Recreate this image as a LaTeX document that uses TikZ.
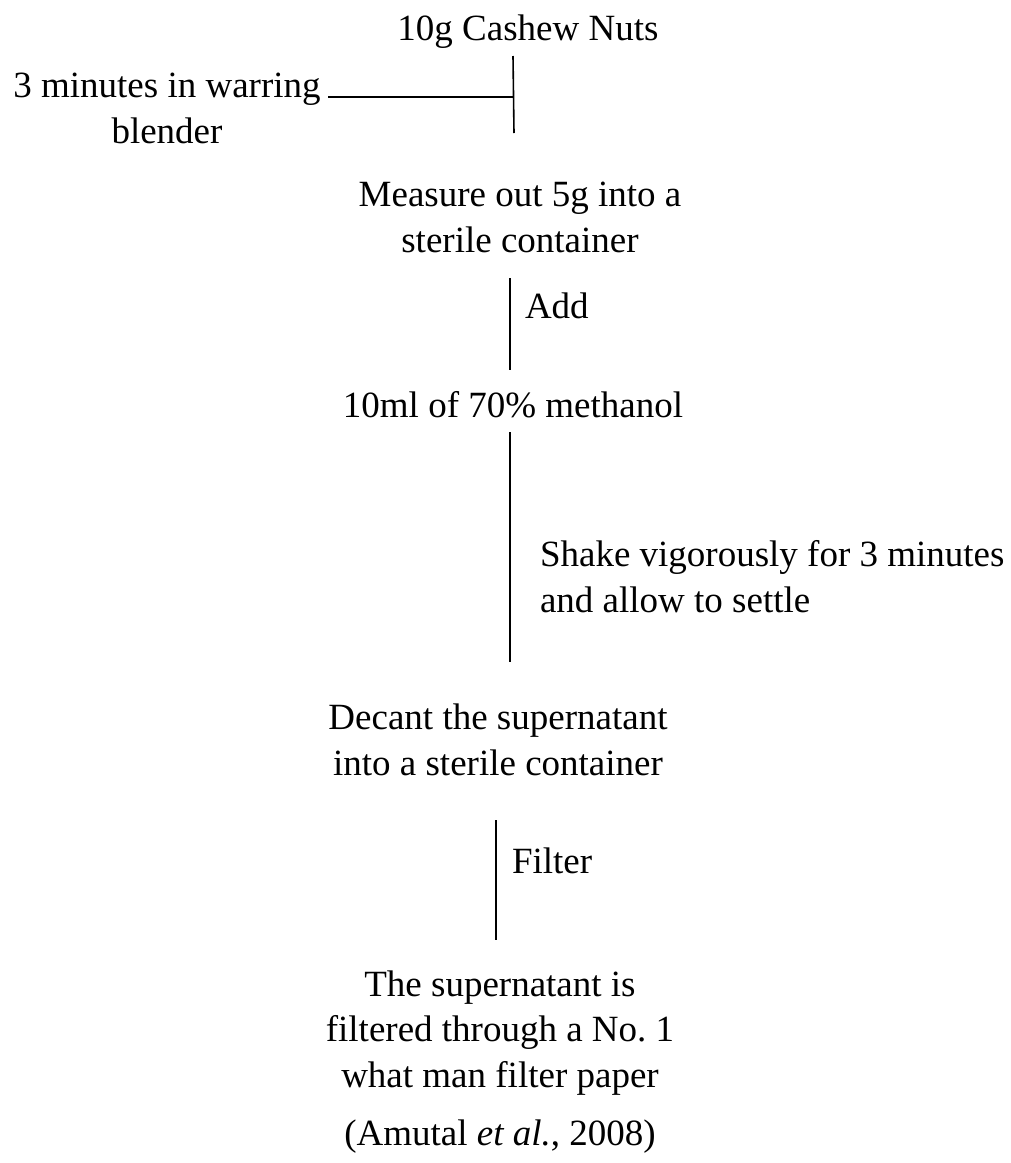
\documentclass[tikz,border=0pt]{standalone}
\usepackage{fontspec}
\setmainfont{Liberation Serif}
\begin{document}
\begin{tikzpicture}[x=1pt,y=-1pt,
  txt/.style={inner sep=0pt,outer sep=0pt,align=center,font=\fontsize{37}{45.5}\selectfont,anchor=base},
  ltxt/.style={txt,align=left,anchor=base west},
  ln/.style={line width=1.6pt,black}]
\useasboundingbox (0,0) rectangle (1011,1163);
\node[txt] (nuts) at (528,40) {10g Cashew Nuts};
\node[txt] (blend) at (167,143) {3 minutes in warring\\blender};
\node[txt] (measure) at (520,252) {Measure out 5g into a\\sterile container};
\node[ltxt] (add) at (525,318) {Add};
\node[txt] (meth) at (513,417) {10ml of 70\% methanol};
\node[ltxt] (shake) at (540,612) {Shake vigorously for 3 minutes\\and allow to settle};
\node[txt] (decant) at (498,775) {Decant the supernatant\\into a sterile container};
\node[ltxt] (filter) at (512,873) {Filter};
\node[txt] (paper) at (500,1087) {The supernatant is\\filtered through a No.\ 1\\what man filter paper};
\node[txt] (ref) at (500,1145) {(Amutal \textit{et al.}, 2008)};
\coordinate (a1) at (513,56);
\coordinate (a2) at (514,133);
\coordinate (j) at (513,97);
\coordinate (h1) at (328,97);
\coordinate (b1) at (510,278);
\coordinate (b2) at (510,370);
\coordinate (c1) at (510,432);
\coordinate (c2) at (510,662);
\coordinate (d1) at (496,820);
\coordinate (d2) at (496,940);
\draw[ln] (a1) -- (a2);
\draw[ln] (h1) -- (j);
\draw[ln] (b1) -- (b2);
\draw[ln] (c1) -- (c2);
\draw[ln] (d1) -- (d2);
\end{tikzpicture}
\end{document}
